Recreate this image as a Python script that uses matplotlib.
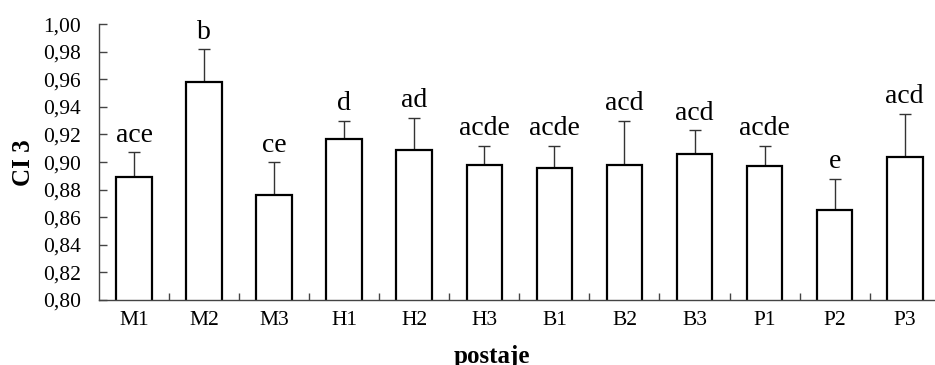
import numpy as np
import matplotlib
matplotlib.use('Agg')
import matplotlib.pyplot as plt
from matplotlib.ticker import FixedLocator, FuncFormatter

plt.rcParams['font.family'] = ['Liberation Serif', 'DejaVu Serif']

# datos
postajes = ['M1', 'M2', 'M3', 'H1', 'H2', 'H3', 'B1', 'B2', 'B3', 'P1', 'P2', 'P3']
ci3 = [0.889, 0.958, 0.876, 0.917, 0.909, 0.898, 0.896, 0.898, 0.906, 0.897, 0.865, 0.904]
error = [0.018, 0.024, 0.024, 0.013, 0.023, 0.014, 0.016, 0.032, 0.017, 0.015, 0.023, 0.031]
letras = ['ace', 'b', 'ce', 'd', 'ad', 'acde', 'acde', 'acd', 'acd', 'acde', 'e', 'acd']

fig = plt.figure(figsize=(9.35, 3.65), dpi=100)
ax = fig.add_axes([0.106, 0.178, 0.899, 0.756])

x = np.arange(len(postajes))
ax.bar(x, ci3, width=0.51, color='white', edgecolor='black', linewidth=1.6, zorder=2)
ax.errorbar(x, ci3, yerr=[np.zeros(len(x)), error], fmt='none', ecolor='#333333',
            elinewidth=1, capsize=4, capthick=1, zorder=1)

# letras de significancia sobre las barras de error
for xi, v, e, l in zip(x, ci3, error, letras):
    ax.annotate(l, (xi, v + e), xytext=(0, 7.5), textcoords='offset points',
                ha='center', va='baseline', fontsize=20)

ax.set_xlim(-0.5, len(x) - 0.5)
ax.set_ylim(0.80, 1.00)
ax.set_yticks(np.arange(0.80, 1.001, 0.02))
ax.yaxis.set_major_formatter(FuncFormatter(lambda v, p: ('%.2f' % v).replace('.', ',')))
ax.set_xticks(x)
ax.set_xticklabels(postajes)
ax.xaxis.set_minor_locator(FixedLocator(np.arange(0.5, len(x) - 0.5, 1)))
ax.tick_params(axis='x', which='major', length=0, pad=8, labelsize=15.5)
ax.tick_params(axis='x', which='minor', direction='in', length=5, width=1, color='#444444')
ax.tick_params(axis='y', direction='in', length=6, width=1, color='#444444', labelsize=15.5, pad=13)

for s in ['top', 'right']:
    ax.spines[s].set_visible(False)
for s in ['left', 'bottom']:
    ax.spines[s].set_color('#444444')
    ax.spines[s].set_linewidth(1)

fig.text(23 / 935, 1 - 163 / 365, 'CI 3', rotation=90, ha='center', va='center',
         fontsize=18, fontweight='bold')
fig.text(492 / 935, 1 - 345 / 365, 'postaje', ha='center', va='top',
         fontsize=18, fontweight='bold')

fig.savefig('out.png', dpi=100)
